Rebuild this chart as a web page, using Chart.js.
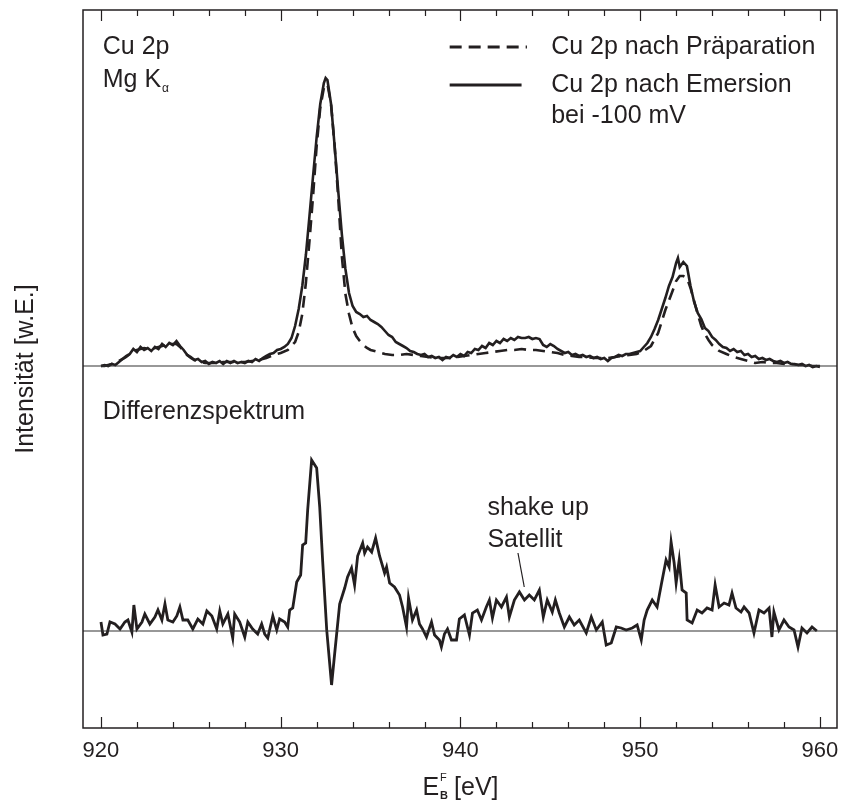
<!DOCTYPE html>
<html>
<head>
<meta charset="utf-8">
<script src="https://cdn.jsdelivr.net/npm/chart.js@4.4.0/dist/chart.umd.min.js"></script>
<style>
  html, body { margin: 0; padding: 0; background: #fff; }
</style>
</head>
<body>
<canvas id="chart" width="843" height="803"></canvas>
<script>
// Cu 2p nach Präparation (gestrichelt)
const prepE = [
  920.0, 920.2, 920.4, 920.6, 920.8, 921.0, 921.2, 921.4, 921.6, 921.8,
  922.0, 922.2, 922.4, 922.6, 922.8, 923.0, 923.2, 923.4, 923.6, 923.8,
  924.0, 924.2, 924.4, 924.6, 924.8, 925.0, 925.2, 925.4, 925.6, 925.8,
  926.0, 926.4, 926.8, 927.2, 927.6, 928.0, 928.4, 928.8, 929.2, 929.6,
  930.0, 930.4, 930.8, 931.0, 931.2, 931.4, 931.6, 931.8, 932.0, 932.2,
  932.4, 932.6, 932.8, 933.0, 933.2, 933.4, 933.6, 933.8, 934.0, 934.2,
  934.4, 934.6, 934.8, 935.0, 935.4, 935.8, 936.2, 936.6, 937.0, 937.4,
  937.8, 938.2, 938.6, 939.0, 939.4, 939.8, 940.2, 940.6, 941.0, 941.4,
  941.8, 942.2, 942.6, 943.0, 943.4, 943.8, 944.2, 944.6, 945.0, 945.4,
  945.8, 946.2, 946.6, 947.0, 947.4, 947.8, 948.2, 948.6, 949.0, 949.4,
  949.8, 950.2, 950.6, 951.0, 951.4, 951.8, 952.0, 952.2, 952.4, 952.6,
  952.8, 953.0, 953.2, 953.4, 953.6, 953.8, 954.0, 954.4, 954.8, 955.2,
  955.6, 956.0, 956.4, 956.8, 957.2, 957.6, 958.0, 958.4, 958.8, 959.2,
  959.6, 960.0
];
const prepI = [
  0, 0, 1, 2, 3, 5, 7, 10, 12, 15,
  16, 17, 18, 17, 17, 18, 19, 20, 21, 22,
  22, 22, 19, 15, 11, 8, 6, 5, 4, 3,
  3, 3, 4, 4, 4, 4, 5, 6, 8, 11,
  13, 16, 24, 34, 52, 83, 125, 170, 220, 258,
  278, 282, 262, 220, 168, 110, 72, 52, 38, 30,
  25, 21, 18, 16, 14, 12, 11, 11, 12, 11,
  10, 9, 8, 8, 8, 9, 10, 11, 12, 13,
  14, 15, 16, 16, 17, 16, 16, 15, 14, 13,
  11, 10, 9, 9, 8, 8, 8, 9, 10, 11,
  12, 15, 20, 33, 56, 75, 85, 90, 90, 88,
  78, 65, 52, 40, 32, 26, 21, 15, 12, 9,
  7, 5, 3, 4, 3, 3, 2, 2, 1, 1,
  0, 0
];

// Cu 2p nach Emersion bei -100 mV (durchgezogen)
const emerE = [
  920.0, 920.2, 920.4, 920.6, 920.8, 921.0, 921.2, 921.4, 921.6, 921.8,
  922.0, 922.2, 922.4, 922.6, 922.8, 923.0, 923.2, 923.4, 923.6, 923.8,
  924.0, 924.2, 924.4, 924.6, 924.8, 925.0, 925.2, 925.4, 925.6, 925.8,
  926.0, 926.2, 926.4, 926.6, 926.8, 927.0, 927.2, 927.4, 927.6, 927.8,
  928.0, 928.2, 928.4, 928.6, 928.8, 929.0, 929.2, 929.4, 929.6, 929.8,
  930.0, 930.2, 930.4, 930.6, 930.8, 931.0, 931.2, 931.4, 931.6, 931.8,
  932.0, 932.2, 932.4, 932.5, 932.6, 932.8, 933.0, 933.2, 933.4, 933.6,
  933.8, 934.0, 934.2, 934.4, 934.6, 934.8, 935.0, 935.2, 935.4, 935.6,
  935.8, 936.0, 936.2, 936.4, 936.6, 936.8, 937.0, 937.2, 937.4, 937.6,
  937.8, 938.0, 938.2, 938.4, 938.6, 938.8, 939.0, 939.2, 939.4, 939.6,
  939.8, 940.0, 940.2, 940.4, 940.6, 940.8, 941.0, 941.2, 941.4, 941.6,
  941.8, 942.0, 942.2, 942.4, 942.6, 942.8, 943.0, 943.2, 943.4, 943.6,
  943.8, 944.0, 944.2, 944.4, 944.6, 944.8, 945.0, 945.2, 945.4, 945.6,
  945.8, 946.0, 946.2, 946.4, 946.6, 946.8, 947.0, 947.2, 947.4, 947.6,
  947.8, 948.0, 948.2, 948.4, 948.6, 948.8, 949.0, 949.2, 949.4, 949.6,
  949.8, 950.0, 950.2, 950.4, 950.6, 950.8, 951.0, 951.2, 951.4, 951.6,
  951.8, 952.0, 952.1, 952.2, 952.4, 952.6, 952.8, 953.0, 953.2, 953.4,
  953.6, 953.8, 954.0, 954.2, 954.4, 954.6, 954.8, 955.0, 955.2, 955.4,
  955.6, 955.8, 956.0, 956.2, 956.4, 956.6, 956.8, 957.0, 957.2, 957.4,
  957.6, 957.8, 958.0, 958.2, 958.4, 958.6, 958.8, 959.0, 959.2, 959.4,
  959.6, 959.8, 960.0
];
const emerI = [
  0, 1, 0, 2, 1, 4, 7, 9, 12, 17,
  14, 19, 16, 18, 15, 19, 17, 22, 19, 23,
  21, 25, 20, 16, 11, 9, 6, 7, 4, 5,
  2, 4, 3, 5, 2, 5, 3, 5, 3, 4,
  3, 5, 4, 7, 5, 8, 10, 12, 13, 16,
  17, 19, 22, 28, 40, 57, 80, 111, 150, 190,
  229, 262, 283, 288, 286, 262, 220, 175, 132, 97,
  73, 60, 54, 52, 49, 50, 46, 44, 42, 39,
  35, 31, 29, 24, 22, 20, 18, 15, 14, 12,
  11, 12, 9, 10, 8, 9, 6, 9, 8, 11,
  9, 12, 10, 14, 13, 17, 16, 20, 18, 23,
  21, 25, 23, 27, 25, 28, 26, 29, 28, 28,
  29, 27, 28, 27, 21, 19, 22, 20, 17, 15,
  13, 14, 11, 12, 10, 11, 9, 10, 8, 9,
  7, 8, 5, 8, 9, 11, 10, 12, 12, 13,
  14, 15, 19, 23, 29, 37, 46, 57, 68, 80,
  89, 103, 108, 99, 104, 100, 80, 64, 53, 47,
  38, 35, 29, 26, 22, 19, 18, 15, 17, 14,
  15, 11, 12, 9, 10, 7, 8, 6, 7, 5,
  4, 5, 3, 4, 2, 2, 1, 2, 0, 1,
  -1, 0, -1
];

// Differenzspektrum
const diffE = [
  920.0, 920.11, 920.33, 920.5, 920.78, 921.06, 921.33, 921.5, 921.72, 921.83,
  922.0, 922.28, 922.44, 922.72, 923.0, 923.17, 923.39, 923.56, 923.72, 924.0,
  924.22, 924.39, 924.56, 924.83, 925.11, 925.39, 925.67, 925.89, 926.17, 926.44,
  926.61, 926.78, 927.06, 927.33, 927.44, 927.72, 928.0, 928.17, 928.44, 928.72,
  928.94, 929.11, 929.28, 929.56, 929.78, 929.94, 930.22, 930.39, 930.5, 930.67,
  930.89, 931.11, 931.22, 931.39, 931.5, 931.72, 932.0, 932.17, 932.33, 932.56,
  932.83, 933.0, 933.28, 933.56, 933.72, 933.94, 934.11, 934.28, 934.56, 934.67,
  934.83, 935.06, 935.28, 935.5, 935.78, 935.89, 936.06, 936.33, 936.61, 936.78,
  937.0, 937.11, 937.33, 937.56, 937.72, 937.89, 938.11, 938.39, 938.56, 938.83,
  938.94, 939.11, 939.28, 939.5, 939.78, 939.94, 940.22, 940.5, 940.67, 940.94,
  941.17, 941.44, 941.61, 941.78, 942.0, 942.28, 942.56, 942.72, 943.0, 943.28,
  943.56, 943.83, 944.11, 944.39, 944.61, 944.83, 945.11, 945.28, 945.5, 945.78,
  946.06, 946.33, 946.61, 947.0, 947.28, 947.56, 947.89, 948.11, 948.39, 948.67,
  948.94, 949.22, 949.56, 949.83, 950.06, 950.22, 950.39, 950.67, 950.94, 951.17,
  951.44, 951.61, 951.72, 951.89, 952.0, 952.17, 952.33, 952.56, 952.61, 952.89,
  953.17, 953.44, 953.72, 954.0, 954.17, 954.39, 954.67, 954.94, 955.11, 955.33,
  955.61, 955.78, 956.06, 956.33, 956.61, 956.89, 957.17, 957.33, 957.44, 957.72,
  958.0, 958.28, 958.56, 958.78, 959.0, 959.28, 959.56, 959.83
];
const diffI = [
  9, -4, -3, 9, 7, 2, 9, 11, -1, 26,
  2, 9, 17, 7, 14, 21, 11, 27, 11, 9,
  15, 24, 11, 11, 2, 12, 7, 20, 15, 2,
  20, 7, 17, -7, 17, 9, -6, 9, 2, -3,
  7, -3, -7, 15, 1, 12, 9, 4, 21, 23,
  49, 56, 86, 88, 121, 171, 163, 124, 71, 1,
  -54, -23, 27, 43, 54, 63, 46, 75, 88, 78,
  84, 79, 93, 75, 58, 64, 48, 44, 36, 24,
  4, 33, 11, 21, 7, 2, -6, 9, -4, -9,
  -16, -3, 2, -9, -9, 12, 16, -4, 18, 21,
  11, 24, 31, 13, 31, 24, 34, 14, 31, 39,
  31, 36, 31, 41, 14, 31, 19, 31, 18, 4,
  14, 6, 11, -2, 14, 1, 9, -14, -12, 4,
  3, 1, 3, 6, -9, 11, 21, 31, 24, 46,
  71, 64, 89, 68, 48, 71, 41, 38, 11, 8,
  21, 18, 23, 21, 46, 24, 28, 26, 38, 23,
  19, 24, 18, -2, 21, 18, 23, -6, 19, 1,
  11, 4, 1, -16, 3, -2, 4, 0
];

const xTicks = [920, 930, 940, 950, 960];
const xMin = 919.0;
const xMax = 960.95;
const upperOffset = 265;   // obere Spektren über dem Differenzspektrum versetzt
const yMin = -97;
const yMax = 621;

const ink = '#231f20';
const font = '"Liberation Sans", Arial, sans-serif';

function toPoints(es, is, offset) {
  return es.map((e, i) => ({ x: e, y: is[i] + offset }));
}

// Rahmen und nach innen zeigende Ticks (oben und unten)
const framePlugin = {
  id: 'frame',
  afterDatasetsDraw(chart) {
    const { ctx, chartArea: a, scales: { x } } = chart;
    ctx.save();
    ctx.strokeStyle = ink;
    ctx.lineWidth = 1.5;
    ctx.strokeRect(a.left, a.top, a.right - a.left, a.bottom - a.top);
    ctx.lineWidth = 1.2;
    for (let v = 920; v <= 960; v += 2) {
      const px = Math.round(x.getPixelForValue(v)) + 0.5;
      const len = v % 10 === 0 ? 11 : 6;
      ctx.beginPath();
      ctx.moveTo(px, a.bottom);
      ctx.lineTo(px, a.bottom - len);
      ctx.moveTo(px, a.top);
      ctx.lineTo(px, a.top + len);
      ctx.stroke();
    }
    ctx.restore();
  }
};

// Beschriftungen im Diagramm
const textPlugin = {
  id: 'texts',
  afterDraw(chart) {
    const { ctx, chartArea: a, scales: { x, y } } = chart;
    const px = v => x.getPixelForValue(v);
    const py = v => y.getPixelForValue(v);
    ctx.save();
    ctx.fillStyle = ink;
    ctx.strokeStyle = ink;
    ctx.textBaseline = 'middle';
    ctx.textAlign = 'left';

    ctx.font = '25px ' + font;
    ctx.fillText('Cu 2p', px(920.1), py(upperOffset + 319));
    ctx.fillText('Mg K', px(920.1), py(upperOffset + 286));
    const mgW = ctx.measureText('Mg K').width;
    ctx.font = '12px ' + font;
    ctx.fillText('\u03b1', px(920.1) + mgW + 1, py(upperOffset + 286) + 9);

    ctx.font = '25px ' + font;
    ctx.fillText('Differenzspektrum', px(920.1), py(219));
    ctx.fillText('shake up', px(941.5), py(123));
    ctx.fillText('Satellit', px(941.5), py(91));

    // Zeiger auf den Satelliten
    ctx.lineWidth = 1.2;
    ctx.beginPath();
    ctx.moveTo(px(943.2), py(78));
    ctx.lineTo(px(943.55), py(44));
    ctx.stroke();

    // Legende
    const row1 = py(upperOffset + 319);
    const row2 = py(upperOffset + 281);
    const row3 = py(upperOffset + 250);
    ctx.lineWidth = 3;
    ctx.setLineDash([12, 7]);
    ctx.beginPath();
    ctx.moveTo(px(939.4), row1);
    ctx.lineTo(px(943.7), row1);
    ctx.stroke();
    ctx.setLineDash([]);
    ctx.beginPath();
    ctx.moveTo(px(939.4), row2);
    ctx.lineTo(px(943.4), row2);
    ctx.stroke();
    ctx.fillText('Cu 2p nach Pr\u00e4paration', px(945.05), row1);
    ctx.fillText('Cu 2p nach Emersion', px(945.05), row2);
    ctx.fillText('bei -100 mV', px(945.05), row3);

    // x-Achsentitel E_B^F [eV]
    const ty = a.bottom + 60;
    ctx.font = '25px ' + font;
    const wE = ctx.measureText('E').width;
    const wRest = ctx.measureText(' [eV]').width;
    ctx.font = '12px ' + font;
    const wSub = ctx.measureText('B').width;
    const x0 = px(940) - (wE + wSub + wRest) / 2;
    ctx.font = '25px ' + font;
    ctx.fillText('E', x0, ty);
    ctx.fillText(' [eV]', x0 + wE + wSub, ty);
    ctx.font = 'bold 11px ' + font;
    ctx.fillText('B', x0 + wE + 1, ty + 8);
    ctx.font = '11px ' + font;
    ctx.fillText('F', x0 + wE + 1, ty - 10);
    ctx.restore();
  }
};

const ctx = document.getElementById('chart').getContext('2d');
new Chart(ctx, {
  type: 'line',
  data: {
    datasets: [
      {
        data: [{ x: xMin, y: upperOffset }, { x: xMax, y: upperOffset }],
        borderColor: '#333', borderWidth: 1.2, pointRadius: 0
      },
      {
        data: [{ x: xMin, y: 0 }, { x: xMax, y: 0 }],
        borderColor: '#333', borderWidth: 1.2, pointRadius: 0
      },
      {
        label: 'Cu 2p nach Präparation',
        data: toPoints(prepE, prepI, upperOffset),
        borderColor: ink, borderWidth: 2.6, borderDash: [12, 7],
        pointRadius: 0, tension: 0
      },
      {
        label: 'Cu 2p nach Emersion bei -100 mV',
        data: toPoints(emerE, emerI, upperOffset),
        borderColor: ink, borderWidth: 2.6,
        pointRadius: 0, tension: 0
      },
      {
        label: 'Differenzspektrum',
        data: toPoints(diffE, diffI, 0),
        borderColor: ink, borderWidth: 2.8,
        pointRadius: 0, tension: 0
      }
    ]
  },
  options: {
    responsive: false,
    animation: false,
    events: [],
    layout: { autoPadding: false, padding: { top: 10, right: 6, left: 0, bottom: 0 } },
    plugins: {
      legend: { display: false },
      tooltip: { enabled: false }
    },
    scales: {
      x: {
        type: 'linear',
        min: xMin,
        max: xMax,
        afterBuildTicks: s => { s.ticks = xTicks.map(v => ({ value: v })); },
        afterFit: s => {
          s.height = 75;
          s.paddingLeft = 0;
          s.paddingRight = 0;
        },
        grid: { display: false, drawTicks: false },
        border: { display: false },
        ticks: {
          padding: 10,
          color: ink,
          font: { family: font, size: 22 },
          maxRotation: 0
        }
      },
      y: {
        type: 'linear',
        min: yMin,
        max: yMax,
        afterFit: s => {
          s.width = 83;
          s.paddingTop = 0;
          s.paddingBottom = 0;
        },
        grid: { display: false, drawTicks: false },
        border: { display: false },
        ticks: { display: false },
        title: {
          display: true,
          text: 'Intensität [w.E.]',
          color: ink,
          font: { family: font, size: 25 },
          padding: { top: 11, bottom: 0 }
        }
      }
    }
  },
  plugins: [framePlugin, textPlugin]
});
</script>
</body>
</html>
